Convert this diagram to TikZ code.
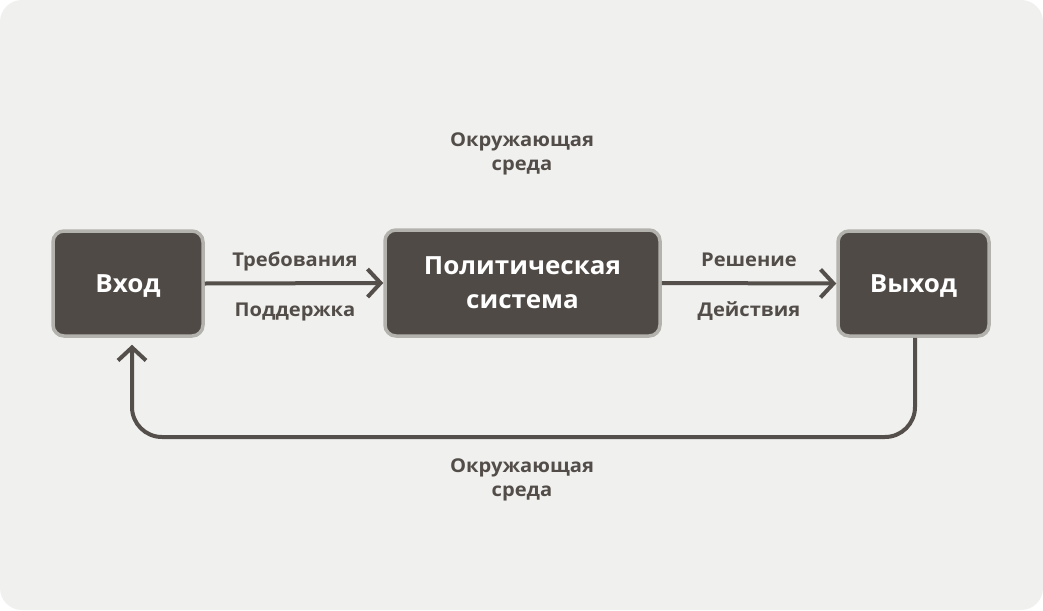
\documentclass[tikz,border=0pt]{standalone}
\usepackage{fontspec}
\setmainfont{Open Sans}
\newfontfamily\labfont{Open Sans Bold}[FakeStretch=1.06]
\newfontfamily\boxfont{Open Sans Bold}[FakeStretch=1.04]
\usetikzlibrary{arrows.meta}
\definecolor{bgcol}{HTML}{F0F0EF}
\definecolor{boxfill}{HTML}{4F4A45}
\definecolor{boxedge}{HTML}{B4B2AD}
\definecolor{linecol}{HTML}{544F4A}
\definecolor{labcol}{HTML}{524D48}
\begin{document}
\begin{tikzpicture}[x=1pt,y=-1pt,
  box/.style={draw=boxedge, line width=3.5pt, fill=boxfill, rounded corners=11pt,
    text=white, font=\boxfont\fontsize{25}{34}\selectfont, align=center,
    inner sep=0pt, text depth=0pt},
  lab/.style={text=labcol, font=\labfont\fontsize{19}{24.5}\selectfont, align=center, inner sep=0pt},
  conn/.style={draw=linecol, line width=4pt},
  tip/.style={-{Straight Barb[length=13pt,width=28pt]}}
]
\fill[white] (0,0) rectangle (1043,610);
\fill[bgcol, rounded corners=22pt] (0,0) rectangle (1043,610);

\node[box, minimum width=150pt, minimum height=105pt] (in) at (128,283.5) {Вход};
\node[box, minimum width=275pt, minimum height=106pt] (sys) at (522.5,283) {Политическая\\система};
\node[box, minimum width=151pt, minimum height=105pt] (out) at (913.5,283.5) {Выход};

\draw[conn, tip] (in.east) -- (sys.west);
\draw[conn, tip] (sys.east) -- (out.west);

\node[lab, anchor=base] (dem) at (295,266) {Требования};
\node[lab, anchor=base] (sup) at (295,316) {Поддержка};
\node[lab, anchor=base] (dec) at (749,266) {Решение};
\node[lab, anchor=base] (act) at (749,316) {Действия};

\node[lab, anchor=north] (envtop) at (522,132.5) {Окружающая\\среда};
\node[lab, anchor=north] (envbot) at (522,458.5) {Окружающая\\среда};

\coordinate (fb) at (0,437);
\draw[conn, tip, rounded corners=30pt]
  ([xshift=1.5pt]out.south) -- ([xshift=1.5pt]out.south |- fb)
  -- ([xshift=4pt]in.south |- fb) -- ([xshift=4pt,yshift=-7pt]in.south);
\end{tikzpicture}
\end{document}
